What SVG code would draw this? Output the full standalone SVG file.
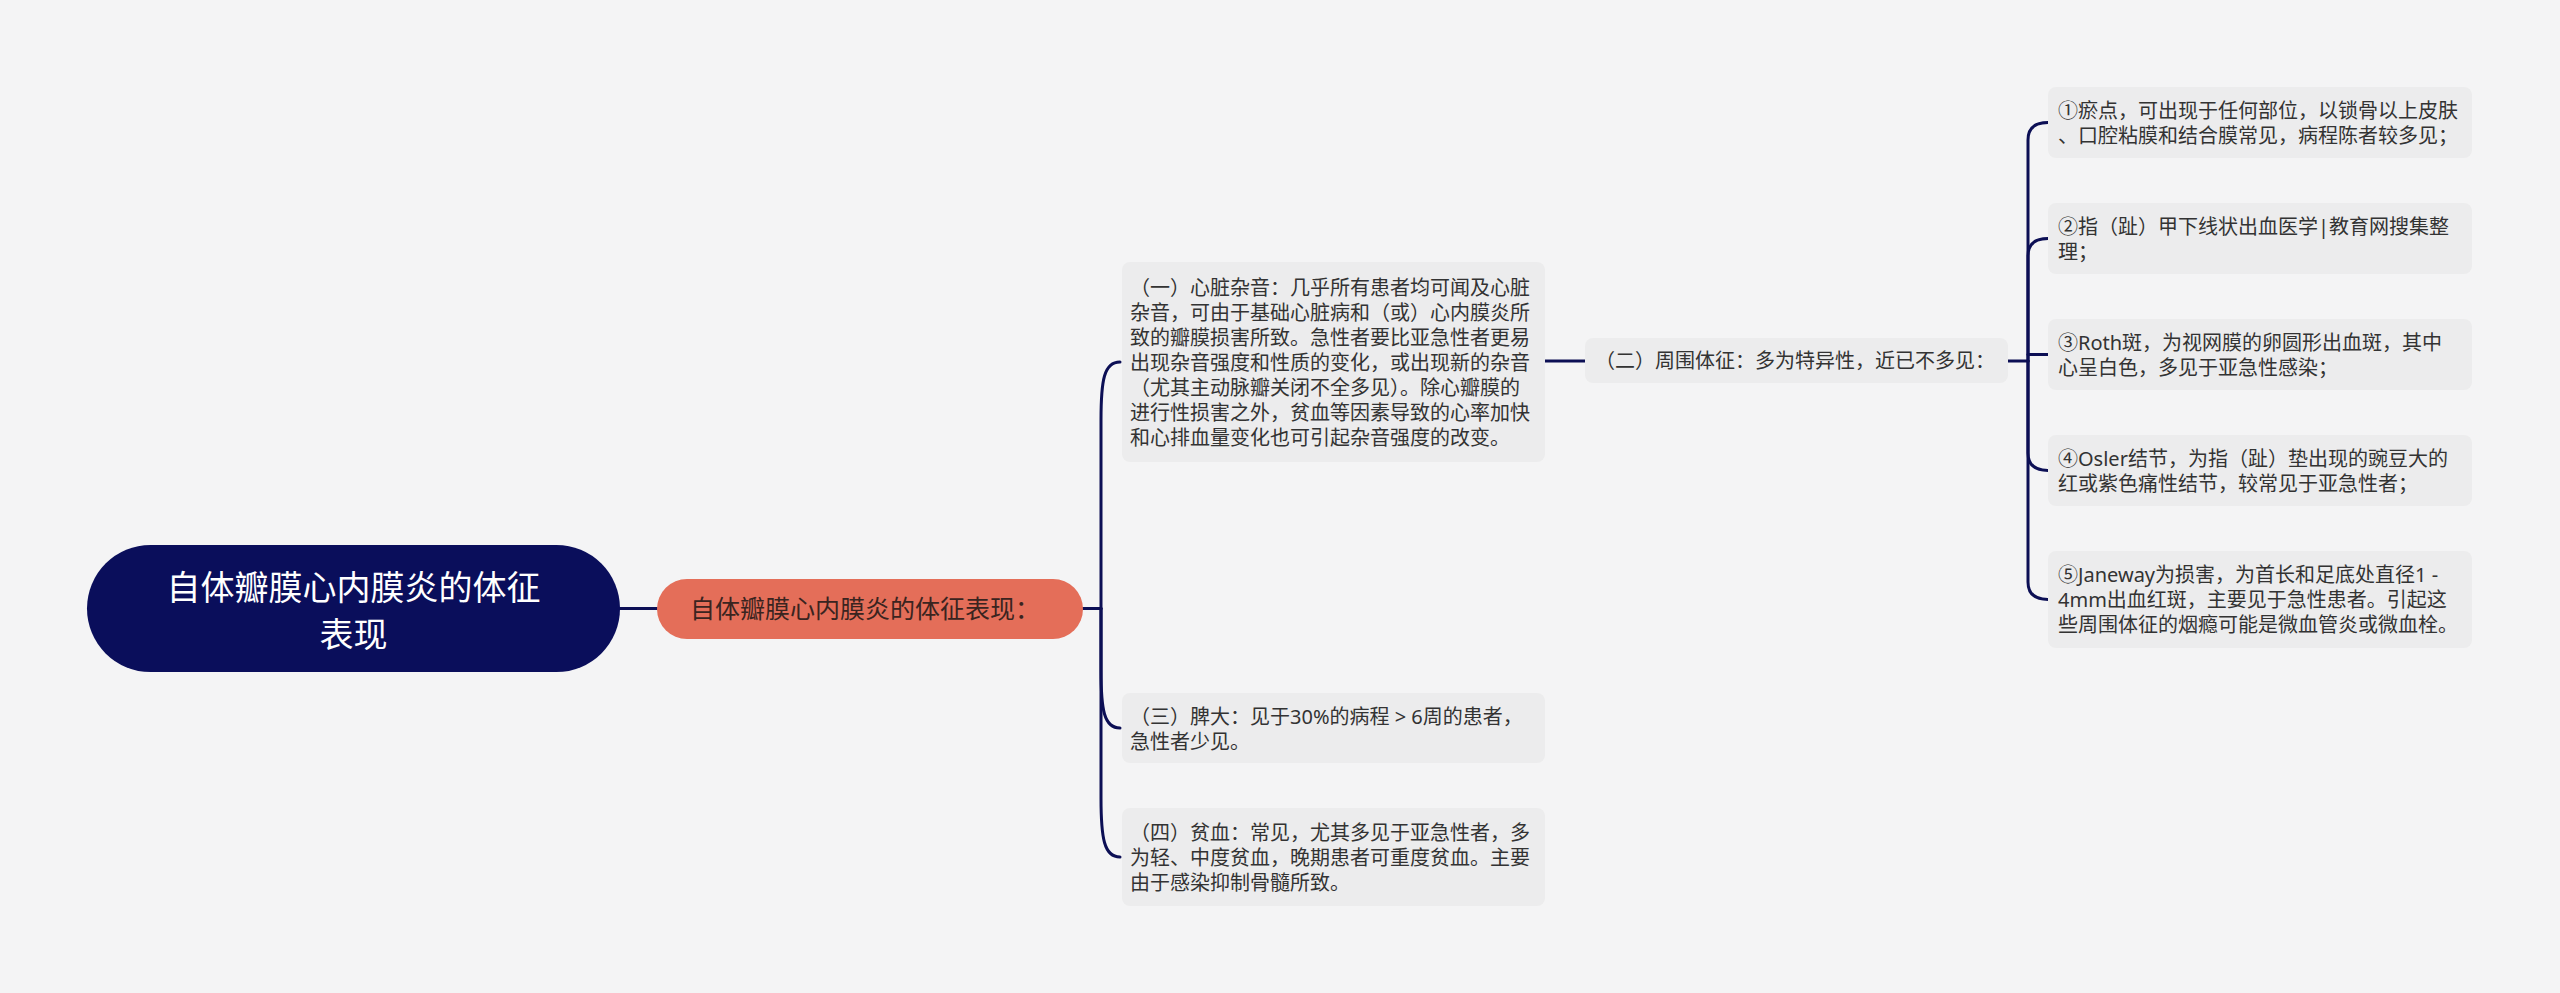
<svg xmlns="http://www.w3.org/2000/svg" width="2560" height="993" viewBox="0 0 2560 993">
<style>
.bg{fill:#f4f4f5}
.box{fill:#ececed}
.t{font-family:'Noto Sans','Noto Sans CJK SC',sans-serif;font-size:20px;fill:#333333}
.conn{fill:none;stroke:#0c0f55;stroke-width:3;stroke-linecap:round}
</style>
<rect class="bg" x="0" y="0" width="2560" height="993"/>
<g id="connectors">
<path class="conn" d="M620,608.5 L657,608.5"/>
<path class="conn" d="M1083,608.5 L1101,608.5"/>
<path class="conn" d="M1101,608.5 L1101,420 C1101,380 1104,362 1120,362"/>
<path class="conn" d="M1101,608.5 L1101,670 C1101,710 1104,728 1120,728"/>
<path class="conn" d="M1101,608.5 L1101,798 C1101,838 1104,857 1120,857"/>
<path class="conn" d="M1545,361 L1585,361"/>
<path class="conn" d="M2008,361 L2028,361"/>
<path class="conn" d="M2028,361 L2028,140 Q2028,122.5 2048,122.5"/>
<path class="conn" d="M2028,361 L2028,256 Q2028,238.5 2048,238.5"/>
<path class="conn" d="M2028,354.5 L2048,354.5"/>
<path class="conn" d="M2028,361 L2028,453 Q2028,470.5 2048,470.5"/>
<path class="conn" d="M2028,361 L2028,582 Q2028,599.5 2048,599.5"/>
</g>
<g id="root">
<rect x="87" y="545" width="533" height="127" rx="63.5" fill="#0a0e5b"/>
<text x="353.5" y="600" text-anchor="middle" font-family="'Noto Sans','Noto Sans CJK SC',sans-serif" font-size="34" fill="#ffffff">自体瓣膜心内膜炎的体征</text>
<text x="353.5" y="647" text-anchor="middle" font-family="'Noto Sans','Noto Sans CJK SC',sans-serif" font-size="34" fill="#ffffff">表现</text>
</g>
<g id="main">
<rect x="657" y="579" width="426" height="60" rx="30" fill="#e46e59"/>
<text x="690" y="618" font-family="'Noto Sans','Noto Sans CJK SC',sans-serif" font-size="25" fill="#3a2420">自体瓣膜心内膜炎的体征表现：</text>
</g>
<g id="n1">
<rect class="box" x="1122" y="262" width="423" height="200" rx="8"/>
<text class="t" x="1130" y="294.5">（一）心脏杂音：几乎所有患者均可闻及心脏</text>
<text class="t" x="1130" y="319.5">杂音，可由于基础心脏病和（或）心内膜炎所</text>
<text class="t" x="1130" y="344.5">致的瓣膜损害所致。急性者要比亚急性者更易</text>
<text class="t" x="1130" y="369.5">出现杂音强度和性质的变化，或出现新的杂音</text>
<text class="t" x="1130" y="394.5">（尤其主动脉瓣关闭不全多见）。除心瓣膜的</text>
<text class="t" x="1130" y="419.5">进行性损害之外，贫血等因素导致的心率加快</text>
<text class="t" x="1130" y="444.5">和心排血量变化也可引起杂音强度的改变。</text>
</g>
<g id="n2">
<rect class="box" x="1585" y="338" width="423" height="45" rx="8"/>
<text class="t" x="1595" y="368">（二）周围体征：多为特异性，近已不多见：</text>
</g>
<g id="n3">
<rect class="box" x="1122" y="693" width="423" height="70" rx="8"/>
<text class="t" x="1130" y="723.5">（三）脾大：见于30%的病程 &gt; 6周的患者，</text>
<text class="t" x="1130" y="748.5">急性者少见。</text>
</g>
<g id="n4">
<rect class="box" x="1122" y="808" width="423" height="98" rx="8"/>
<text class="t" x="1130" y="839.5">（四）贫血：常见，尤其多见于亚急性者，多</text>
<text class="t" x="1130" y="864.5">为轻、中度贫血，晚期患者可重度贫血。主要</text>
<text class="t" x="1130" y="889.5">由于感染抑制骨髓所致。</text>
</g>
<g id="s1">
<rect class="box" x="2048" y="87" width="424" height="71" rx="8"/>
<text class="t" x="2058" y="117.5">①瘀点，可出现于任何部位，以锁骨以上皮肤</text>
<text class="t" x="2058" y="142.5">、口腔粘膜和结合膜常见，病程陈者较多见；</text>
</g>
<g id="s2">
<rect class="box" x="2048" y="203" width="424" height="71" rx="8"/>
<text class="t" x="2058" y="233.5">②指（趾）甲下线状出血医学|教育网搜集整</text>
<text class="t" x="2058" y="258.5">理；</text>
</g>
<g id="s3">
<rect class="box" x="2048" y="319" width="424" height="71" rx="8"/>
<text class="t" x="2058" y="349.5">③Roth斑，为视网膜的卵圆形出血斑，其中</text>
<text class="t" x="2058" y="374.5">心呈白色，多见于亚急性感染；</text>
</g>
<g id="s4">
<rect class="box" x="2048" y="435" width="424" height="71" rx="8"/>
<text class="t" x="2058" y="465.5">④Osler结节，为指（趾）垫出现的豌豆大的</text>
<text class="t" x="2058" y="490.5">红或紫色痛性结节，较常见于亚急性者；</text>
</g>
<g id="s5">
<rect class="box" x="2048" y="551" width="424" height="97" rx="8"/>
<text class="t" x="2058" y="582">⑤Janeway为损害，为首长和足底处直径1 -</text>
<text class="t" x="2058" y="607">4mm出血红斑，主要见于急性患者。引起这</text>
<text class="t" x="2058" y="632">些周围体征的烟瘾可能是微血管炎或微血栓。</text>
</g>
</svg>
